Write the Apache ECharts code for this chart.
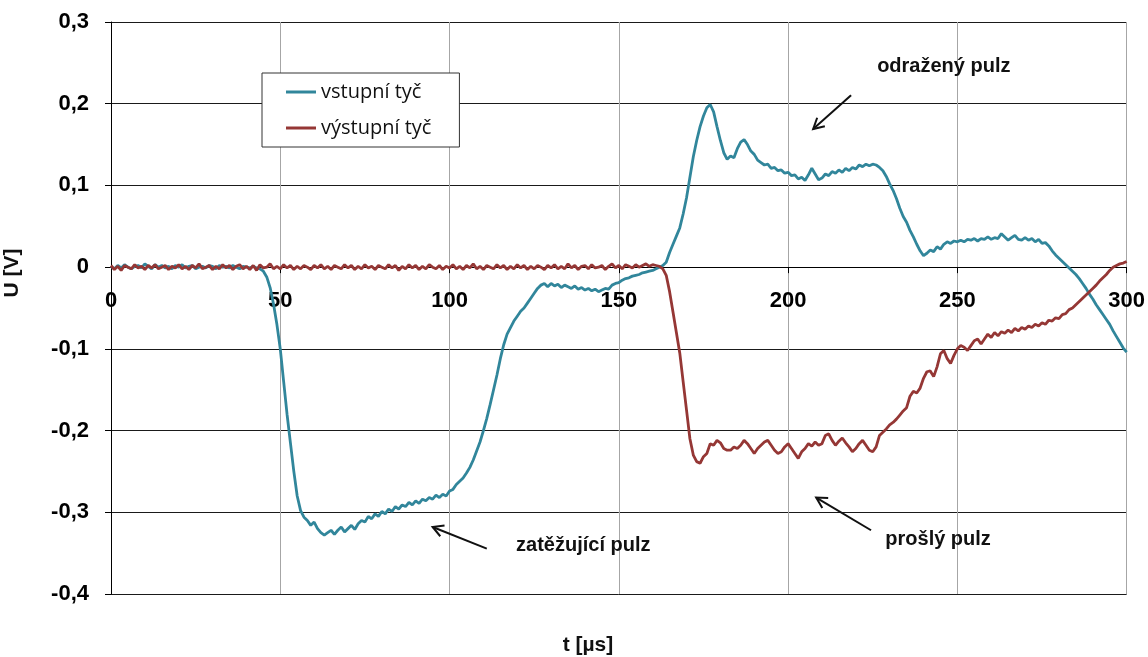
<!DOCTYPE html>
<html>
<head>
<meta charset="utf-8">
<script src="https://cdn.jsdelivr.net/npm/echarts@6/dist/echarts.min.js"></script>
<style>html,body{margin:0;padding:0;background:#fff}#c{width:1148px;height:657px}</style>
</head>
<body>
<div id="c"></div>
<script>
// sample step in microseconds (values below are read every 1 µs)
const T_STEP = 1;
const seriesNames = ['vstupní tyč', 'výstupní tyč'];
const xTicks = [0, 50, 100, 150, 200, 250, 300];
const yTicks = [-0.4, -0.3, -0.2, -0.1, 0, 0.1, 0.2, 0.3];

const vstupni = [
 0.001,-0.002,0.002,-0.001,0.003,0.000,-0.002,0.001,0.002,-0.001,
 0.004,0.001,-0.002,0.003,0.000,0.002,-0.001,0.001,-0.002,0.002,
 0.000,0.003,-0.001,0.001,0.002,-0.002,0.000,0.001,-0.001,0.002,
 0.001,-0.002,0.002,0.000,0.001,-0.001,0.002,0.000,-0.002,0.001,
 0.000,-0.001,0.001,-0.001,-0.002,-0.005,-0.012,-0.025,-0.045,-0.07,
 -0.10,-0.14,-0.18,-0.215,-0.25,-0.28,-0.298,-0.306,-0.31,-0.316,
 -0.312,-0.32,-0.325,-0.328,-0.325,-0.322,-0.327,-0.322,-0.318,-0.324,
 -0.32,-0.316,-0.321,-0.314,-0.31,-0.312,-0.305,-0.308,-0.302,-0.305,
 -0.299,-0.302,-0.296,-0.299,-0.293,-0.296,-0.291,-0.293,-0.288,-0.291,
 -0.286,-0.289,-0.284,-0.286,-0.282,-0.284,-0.279,-0.282,-0.278,-0.28,
 -0.274,-0.272,-0.266,-0.262,-0.258,-0.252,-0.245,-0.236,-0.225,-0.214,
 -0.2,-0.185,-0.168,-0.15,-0.132,-0.112,-0.095,-0.082,-0.074,-0.066,
 -0.06,-0.054,-0.05,-0.044,-0.038,-0.032,-0.026,-0.022,-0.02,-0.024,
 -0.02,-0.023,-0.021,-0.025,-0.022,-0.024,-0.026,-0.023,-0.027,-0.025,
 -0.028,-0.026,-0.029,-0.027,-0.03,-0.028,-0.026,-0.027,-0.022,-0.02,
 -0.019,-0.016,-0.014,-0.013,-0.011,-0.01,-0.009,-0.007,-0.006,-0.005,
 -0.004,-0.002,0.0,0.002,0.006,0.018,0.028,0.038,0.048,0.065,
 0.085,0.11,0.135,0.155,0.172,0.185,0.195,0.199,0.19,0.172,
 0.155,0.14,0.132,0.136,0.134,0.145,0.153,0.156,0.15,0.142,
 0.138,0.131,0.128,0.125,0.126,0.121,0.122,0.118,0.119,0.115,
 0.116,0.112,0.113,0.108,0.11,0.106,0.113,0.121,0.114,0.107,
 0.109,0.114,0.112,0.117,0.115,0.119,0.116,0.121,0.118,0.122,
 0.12,0.125,0.123,0.126,0.124,0.126,0.125,0.122,0.118,0.111,
 0.102,0.094,0.084,0.072,0.062,0.055,0.045,0.037,0.028,0.02,
 0.014,0.017,0.021,0.019,0.025,0.022,0.028,0.031,0.029,0.032,
 0.031,0.033,0.031,0.034,0.033,0.035,0.032,0.035,0.034,0.037,
 0.034,0.036,0.035,0.041,0.037,0.033,0.036,0.039,0.034,0.033,
 0.036,0.033,0.035,0.031,0.034,0.029,0.03,0.026,0.02,0.015,
 0.011,0.007,0.003,-0.001,-0.005,-0.009,-0.014,-0.02,-0.026,-0.033,
 -0.039,-0.046,-0.052,-0.058,-0.064,-0.07,-0.078,-0.085,-0.092,-0.099,
 -0.104
];

const vystupni = [
 0.002,-0.003,0.001,-0.004,0.002,0.000,-0.002,0.003,-0.001,0.001,
 -0.003,0.002,-0.001,0.003,-0.002,0.000,0.002,-0.003,0.001,-0.001,
 0.003,-0.002,0.001,-0.003,0.002,-0.001,0.004,-0.002,0.000,0.002,
 -0.003,0.001,-0.002,0.003,-0.001,0.002,-0.003,0.001,0.003,-0.002,
 0.001,-0.003,0.002,-0.004,0.003,-0.001,0.000,0.004,-0.002,0.001,
 -0.002,0.003,-0.001,0.002,-0.003,0.001,-0.002,0.002,0.000,-0.003,
 0.002,-0.001,0.003,-0.002,0.001,-0.003,0.002,0.000,-0.002,0.003,
 -0.001,0.002,-0.003,0.001,-0.002,0.003,-0.001,0.001,-0.003,0.002,
 0.000,-0.002,0.003,-0.001,0.002,-0.004,0.001,-0.002,0.003,-0.001,
 0.002,-0.003,0.001,-0.002,0.003,0.000,-0.002,0.002,-0.003,0.001,
 -0.001,0.003,-0.002,0.001,-0.003,0.002,-0.001,0.004,-0.002,0.001,
 -0.003,0.002,0.000,-0.002,0.003,-0.001,0.002,-0.003,0.001,-0.002,
 0.003,-0.001,0.002,-0.003,0.001,-0.002,0.002,0.000,-0.003,0.002,
 -0.001,0.003,-0.002,0.001,-0.002,0.004,-0.001,0.002,-0.003,0.001,
 0.002,-0.002,0.003,-0.001,0.000,0.002,-0.003,0.001,0.004,-0.001,
 0.002,-0.002,0.003,0.001,-0.001,0.003,0.000,0.002,0.004,0.001,
 0.003,0.002,0.001,-0.002,-0.01,-0.03,-0.055,-0.08,-0.105,-0.14,
 -0.175,-0.21,-0.23,-0.238,-0.24,-0.232,-0.228,-0.216,-0.218,-0.212,
 -0.215,-0.222,-0.224,-0.224,-0.22,-0.222,-0.218,-0.212,-0.216,-0.222,
 -0.228,-0.222,-0.218,-0.214,-0.212,-0.218,-0.224,-0.228,-0.226,-0.22,
 -0.216,-0.222,-0.228,-0.234,-0.226,-0.222,-0.216,-0.219,-0.214,-0.218,
 -0.216,-0.206,-0.204,-0.212,-0.218,-0.213,-0.209,-0.215,-0.22,-0.226,
 -0.222,-0.216,-0.212,-0.218,-0.224,-0.226,-0.22,-0.206,-0.202,-0.198,
 -0.193,-0.19,-0.186,-0.181,-0.176,-0.172,-0.158,-0.152,-0.154,-0.148,
 -0.136,-0.128,-0.127,-0.134,-0.122,-0.106,-0.102,-0.112,-0.118,-0.108,
 -0.1,-0.096,-0.098,-0.102,-0.096,-0.09,-0.088,-0.094,-0.088,-0.082,
 -0.086,-0.08,-0.084,-0.079,-0.081,-0.077,-0.08,-0.075,-0.078,-0.074,
 -0.076,-0.072,-0.074,-0.07,-0.072,-0.068,-0.07,-0.065,-0.066,-0.062,
 -0.063,-0.058,-0.057,-0.052,-0.05,-0.046,-0.042,-0.038,-0.034,-0.03,
 -0.026,-0.022,-0.017,-0.013,-0.009,-0.004,0.0,0.002,0.004,0.005,
 0.007
];

// annotation texts and arrows (in data coordinates: [t, U])
const annotations = [
  {text: 'odražený pulz', at: [246, 0.245], tail: [218.6, 0.2105], tip: [207.4, 0.169]},
  {text: 'zatěžující pulz', at: [139.5, -0.341], tail: [111, -0.3445], tip: [95, -0.318]},
  {text: 'prošlý pulz', at: [244.3, -0.333], tail: [224.5, -0.322], tip: [208.3, -0.282]}
];

const toPairs = arr => arr.map((v, i) => [i * T_STEP, v]);
const fmtY = v => (Math.abs(v) < 1e-9 ? '0' : v.toFixed(1).replace('.', ','));

const chart = echarts.init(document.getElementById('c'), null, {renderer: 'canvas'});
const tickFont = {fontFamily: 'Liberation Sans, Arial, sans-serif', fontWeight: 'bold', fontSize: 22, color: '#000'};

chart.setOption({
  animation: false,
  backgroundColor: '#fff',
  grid: {left: 111, right: 21, top: 22, bottom: 63, containLabel: false},
  legend: {
    orient: 'vertical', left: 262, top: 73,
    backgroundColor: '#fff', borderColor: '#333', borderWidth: 1,
    padding: [8, 28, 8, 24], itemGap: 14, itemWidth: 30, itemHeight: 3,
    icon: 'rect',
    textStyle: {fontFamily: 'Open Sans, sans-serif', fontSize: 20, color: '#111', lineHeight: 22},
    data: seriesNames
  },
  xAxis: {
    type: 'value', position: 'bottom', offset: 0,
    min: xTicks[0], max: xTicks[xTicks.length - 1], interval: 50,
    axisLine: {show: true, onZero: false, lineStyle: {color: '#000', width: 1}},
    axisTick: {show: true, length: 6, lineStyle: {color: '#000'}},
    axisLabel: Object.assign({margin: 23}, tickFont),
    splitLine: {show: true, lineStyle: {color: '#a6a6a6', width: 1}}
  },
  yAxis: {
    type: 'value', min: yTicks[0], max: yTicks[yTicks.length - 1], interval: 0.1,
    axisLine: {show: true, onZero: false, lineStyle: {color: '#000', width: 1}},
    axisTick: {show: true, length: 6, lineStyle: {color: '#000'}},
    axisLabel: Object.assign({margin: 22, formatter: fmtY}, tickFont),
    splitLine: {show: true, lineStyle: {color: '#1a1a1a', width: 1}}
  },
  series: [
    {name: seriesNames[0], type: 'line', data: toPairs(vstupni), symbol: 'none', showSymbol: false,
     lineStyle: {color: '#31869b', width: 2.8}, itemStyle: {color: '#31869b'}, z: 3},
    {name: seriesNames[1], type: 'line', data: toPairs(vystupni), symbol: 'none', showSymbol: false,
     lineStyle: {color: '#953735', width: 2.8}, itemStyle: {color: '#953735'}, z: 4}
  ]
});

// put the time axis (line, ticks, labels) on the U = 0 line, as in the original
(function placeXAxisOnZero() {
  const yBottom = chart.convertToPixel({yAxisIndex: 0}, yTicks[0]);
  const yZero = chart.convertToPixel({yAxisIndex: 0}, 0);
  chart.setOption({xAxis: {offset: -(yBottom - yZero)}});
})();

function buildGraphics() {
  const g = [];
  const boldText = {fontFamily: 'Liberation Sans, Arial, sans-serif', fontWeight: 'bold', fontSize: 20, fill: '#111'};
  annotations.forEach(a => {
    const p = chart.convertToPixel({gridIndex: 0}, a.at);
    const tl = chart.convertToPixel({gridIndex: 0}, a.tail);
    const tp = chart.convertToPixel({gridIndex: 0}, a.tip);
    g.push({type: 'text', x: p[0], y: p[1], style: Object.assign({text: a.text, align: 'center', verticalAlign: 'middle'}, boldText), z: 10});
    g.push({type: 'line', shape: {x1: tl[0], y1: tl[1], x2: tp[0], y2: tp[1]}, style: {stroke: '#111', lineWidth: 2}, z: 10});
    const ang = Math.atan2(tl[1] - tp[1], tl[0] - tp[0]);
    const L = 12, da = 0.5;
    g.push({type: 'polyline', shape: {points: [
      [tp[0] + L * Math.cos(ang + da), tp[1] + L * Math.sin(ang + da)],
      [tp[0], tp[1]],
      [tp[0] + L * Math.cos(ang - da), tp[1] + L * Math.sin(ang - da)]
    ]}, style: {stroke: '#111', lineWidth: 2, fill: null}, z: 10});
  });
  g.push({type: 'text', x: 588, y: 645, style: Object.assign({text: 't [µs]', align: 'center', verticalAlign: 'middle'}, boldText, {fontSize: 21}), z: 10});
  g.push({type: 'text', x: 12, y: 273, rotation: Math.PI / 2, style: Object.assign({text: 'U [V]', align: 'center', verticalAlign: 'middle'}, boldText, {fontSize: 21}), z: 10});
  chart.setOption({graphic: g});
}
buildGraphics();
</script>
</body>
</html>
